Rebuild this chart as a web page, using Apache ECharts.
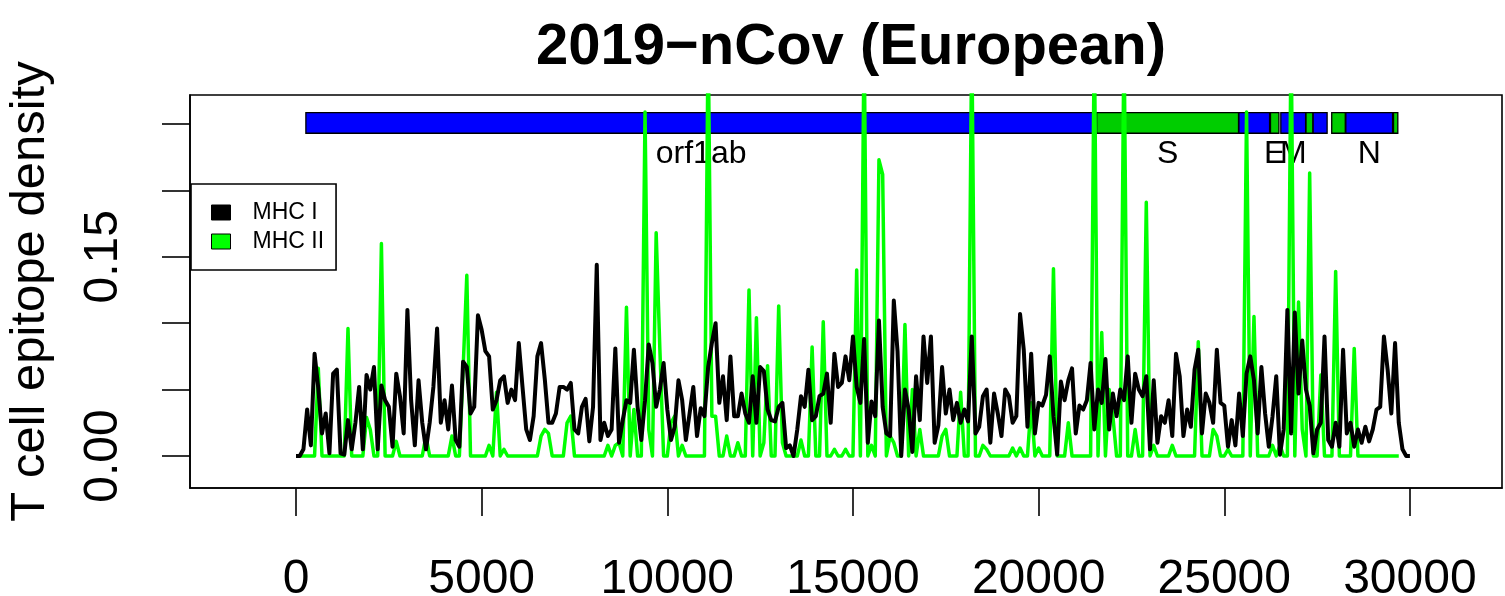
<!DOCTYPE html>
<html><head><meta charset="utf-8">
<script src="https://cdn.jsdelivr.net/npm/echarts@6/dist/echarts.min.js"></script>
<style>html,body{margin:0;padding:0;background:#fff}#c{width:1505px;height:596px}</style>
</head><body><div id="c"></div>
<script>
// sampling step along the genome (nt)
const STEP = 100;
// MHC I epitope density (black), one value per STEP nt from position 0
const mhc1 = [
0,0,0.005,0.035,0.008,0.077,0.051,0.017,0.032,0.002,
0.062,0.065,0.002,0.001,0.027,0.005,0.025,0.052,0.005,0.061,
0.050,0.067,0.005,0.053,0.042,0.037,0.007,0.062,0.045,0.017,
0.110,0.042,0.008,0.057,0.025,0.005,0.025,0.052,0.096,0.025,
0.042,0.020,0.053,0.012,0.007,0.071,0.067,0.032,0.037,0.106,
0.095,0.079,0.075,0.035,0.042,0.057,0.060,0.040,0.050,0.042,
0.085,0.052,0.020,0.012,0.030,0.075,0.085,0.058,0.025,0.025,
0.032,0.052,0.052,0.050,0.055,0.020,0.017,0.037,0.043,0.011,
0.037,0.144,0.012,0.025,0.015,0.020,0.081,0.010,0.027,0.042,
0.040,0.080,0.037,0.012,0.042,0.084,0.070,0.037,0.050,0.070,
0.035,0.012,0.022,0.057,0.042,0.012,0.032,0.052,0.015,0.036,
0.030,0.067,0.085,0.100,0.040,0.060,0.027,0.075,0.030,0.030,
0.047,0.032,0.025,0.060,0.025,0.067,0.064,0.035,0.027,0.026,
0.037,0.040,0.006,0.008,0,0.020,0.045,0.037,0.065,0.027,
0.030,0.045,0.047,0.062,0.025,0.077,0.052,0.055,0.075,0.057,
0.090,0.052,0.040,0.088,0.010,0.041,0.030,0.102,0.037,0.017,
0.015,0.117,0.079,0,0.050,0.035,0.003,0.060,0.027,0.090,
0.055,0.090,0.010,0.023,0.067,0.032,0.050,0.027,0.040,0.025,
0.035,0.026,0.090,0.017,0.022,0.045,0.050,0.010,0.047,0.032,
0.015,0.050,0.045,0.025,0.030,0.107,0.080,0.022,0.077,0.017,
0.040,0.038,0.046,0.075,0.030,0.001,0.056,0.042,0.057,0.066,
0.017,0.038,0.035,0.042,0.070,0.020,0.050,0.040,0.073,0.020,
0.047,0.030,0.050,0.042,0.075,0.025,0.062,0.050,0.045,0.060,
0.005,0.057,0.010,0.030,0.025,0.042,0.015,0.077,0.060,0.015,
0.035,0.022,0.065,0.080,0.017,0.047,0.040,0.025,0.080,0.040,
0.038,0.007,0.027,0.008,0.047,0.015,0.062,0.075,0.057,0.017,
0.067,0.032,0.007,0.030,0.060,0.001,0.020,0.110,0.017,0.108,
0.047,0.087,0.050,0.038,0.002,0.020,0.025,0.090,0.012,0.007,
0.025,0.007,0.080,0.017,0.025,0.007,0.020,0.010,0.022,0.011,
0.020,0.035,0.037,0.090,0.065,0.032,0.085,0.025,0.005,0,
0
];
// MHC II epitope density (green), one value per STEP nt from position 0
const mhc2 = [
0,0,0,0,0,0,0.066,0,0,0,
0,0,0,0,0.096,0,0,0,0,0.029,
0.020,0,0,0.160,0,0,0,0.011,0,0,
0,0,0,0,0,0.015,0,0,0,0,
0,0,0.015,0,0,0.065,0.136,0,0,0,
0,0,0.008,0,0.048,0,0.005,0,0,0,
0,0,0,0,0,0,0.015,0.020,0.017,0,
0,0,0,0.025,0.030,0,0,0,0,0,
0,0,0,0,0.008,0,0.008,0.010,0,0.112,
0,0.035,0,0,0.259,0.020,0,0.168,0.080,0,
0,0.025,0.030,0,0.008,0,0,0,0,0,
0,0.32,0.030,0.030,0,0,0.015,0,0,0.010,
0,0,0.125,0,0.104,0,0.010,0.068,0,0,
0.113,0.010,0,0,0,0,0.012,0,0,0.082,
0,0,0.101,0,0,0.005,0,0,0.005,0,
0,0.140,0,0.32,0,0.008,0,0.223,0.212,0,
0.015,0.010,0,0,0.099,0,0.050,0,0.020,0,
0,0,0,0,0.015,0.020,0,0,0,0.048,
0,0,0.32,0,0,0.008,0.005,0,0,0,
0,0,0,0.006,0,0.006,0,0,0.040,0,
0.006,0,0,0,0.141,0,0,0,0.025,0,
0,0,0,0,0,0.32,0,0.093,0,0.050,
0.030,0,0,0.32,0,0,0.020,0,0,0.191,
0,0.008,0,0,0,0,0.008,0,0,0,
0,0,0,0.086,0,0,0,0.020,0.015,0,
0,0.005,0,0,0,0,0.259,0,0.105,0,
0,0,0,0.008,0,0.008,0,0,0.32,0,
0.116,0.020,0,0.213,0,0,0.061,0,0,0,
0.139,0,0,0,0,0.081,0,0,0,0,
0,0,0,0,0,0,0,0
];
// genome annotation
const geneStart = [266, 21563, 25393, 26245, 26523, 27202, 27394, 27894, 28274, 29558];
const geneEnd   = [21555, 25384, 26220, 26472, 27191, 27387, 27770, 28259, 29533, 29674];
const geneColorIdx = [0, 1, 0, 1, 0, 1, 0, 1, 0, 1];
const geneLabels = ['orf1ab', 'S', '', 'E', 'M', '', '', '', 'N', ''];
// axes
const xTicks = [0, 5000, 10000, 15000, 20000, 25000, 30000];
const yTicks = [0, 0.05, 0.10, 0.15, 0.20, 0.25];
const yTickLabels = [0, 0.15];

const GENE_COLORS = ['#0000FF', '#00CD00'];
const BAR_HI = 0.2585, BAR_LO = 0.243, LABEL_Y = 0.227;
const FONT = '"Liberation Sans", Arial, Helvetica, sans-serif';

const chart = echarts.init(document.getElementById('c'), null, {renderer: 'canvas'});
const geneData = geneStart.map((s, i) => [s, geneEnd[i], geneColorIdx[i]]);

function renderGene(params, api) {
  const i = params.dataIndex;
  const p0 = api.coord([api.value(0), BAR_HI]);
  const p1 = api.coord([api.value(1), BAR_LO]);
  const children = [{
    type: 'rect',
    shape: {x: p0[0], y: p0[1], width: p1[0] - p0[0], height: p1[1] - p0[1]},
    style: {fill: GENE_COLORS[api.value(2)], stroke: '#000', lineWidth: 1.3}
  }];
  if (geneLabels[i]) {
    const c = api.coord([(api.value(0) + api.value(1)) / 2, LABEL_Y]);
    children.push({
      type: 'text', x: c[0], y: c[1],
      style: {text: geneLabels[i], fill: '#000', fontSize: 32, fontFamily: FONT, align: 'center', verticalAlign: 'middle'}
    });
  }
  return {type: 'group', children};
}

chart.setOption({
  animation: false,
  backgroundColor: '#fff',
  title: {
    text: '2019\u2212nCov (European)',
    left: 846, top: 14, textAlign: 'center',
    textStyle: {fontSize: 58, fontWeight: 'bold', fontFamily: FONT, color: '#000'}
  },
  grid: {left: 190, top: 95, right: 3, bottom: 108, outerBoundsMode: 'none', containLabel: false,
    show: true, borderColor: '#000', borderWidth: 1.6, backgroundColor: 'transparent'},
  legend: {
    data: ['MHC I', 'MHC II'],
    orient: 'vertical', left: 191, top: 184,
    icon: 'rect', itemWidth: 19, itemHeight: 15, itemGap: 6,
    padding: [17, 12, 17, 20],
    borderColor: '#000', borderWidth: 1.6, backgroundColor: '#fff',
    itemStyle: {borderColor: '#000', borderWidth: 1},
    textStyle: {fontSize: 23, lineHeight: 23, fontFamily: FONT, color: '#000', padding: [0, 0, 0, 17]}
  },
  xAxis: {
    type: 'value', min: -2855, max: 32480,
    axisLine: {show: true, onZero: false, lineStyle: {color: '#000', width: 1.6}},
    axisTick: {show: true, length: 28, customValues: xTicks, lineStyle: {color: '#000', width: 1.6}},
    axisLabel: {customValues: xTicks, fontSize: 48, fontFamily: FONT, color: '#000', margin: 68,
      formatter: v => String(v)},
    splitLine: {show: false}
  },
  yAxis: {
    type: 'value', min: -0.0241, max: 0.2718,
    name: 'T cell epitope density', nameLocation: 'middle', nameRotate: 90, nameGap: 135,
    nameTextStyle: {fontSize: 49, fontFamily: FONT, color: '#000'},
    axisLine: {show: true, onZero: false, lineStyle: {color: '#000', width: 1.6}},
    axisTick: {show: true, length: 28, customValues: yTicks, lineStyle: {color: '#000', width: 1.6}},
    axisLabel: {customValues: yTickLabels, rotate: 90, fontSize: 48, fontFamily: FONT, color: '#000', margin: 62,
      formatter: v => v.toFixed(2)},
    splitLine: {show: false}
  },
  series: [
    {
      type: 'custom', name: 'genes', renderItem: renderGene, data: geneData,
      encode: {x: [0, 1], y: 2}, silent: true, z: 1
    },
    {
      type: 'line', name: 'MHC II', data: mhc2.map((v, i) => [i * STEP, v]),
      showSymbol: false, symbol: 'none', clip: true, z: 2,
      itemStyle: {color: '#00FF00'},
      lineStyle: {color: '#00FF00', width: 3.5, join: 'round'}
    },
    {
      type: 'line', name: 'MHC I', data: mhc1.map((v, i) => [i * STEP, v]),
      showSymbol: false, symbol: 'none', clip: true, z: 3,
      itemStyle: {color: '#000000'},
      lineStyle: {color: '#000000', width: 4, join: 'round'}
    }
  ]
});
</script>
</body></html>
